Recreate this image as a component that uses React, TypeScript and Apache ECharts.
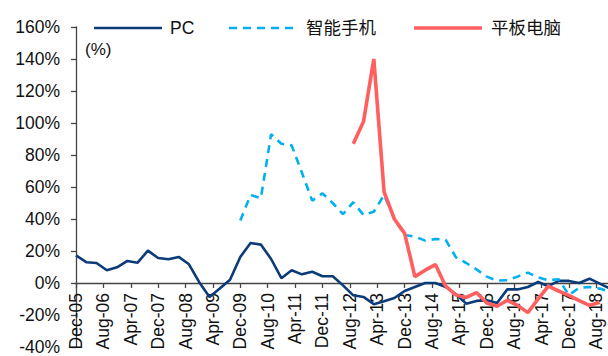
import React, { useEffect, useRef } from "react";
import * as echarts from "echarts";

// Month axis: 0 = Dec-05, one unit per month; a label every 8 months.
const tickLabels = [
  "Dec-05", "Aug-06", "Apr-07", "Dec-07", "Aug-08", "Apr-09", "Dec-09",
  "Aug-10", "Apr-11", "Dec-11", "Aug-12", "Apr-13", "Dec-13", "Aug-14",
  "Apr-15", "Dec-15", "Aug-16", "Apr-17", "Dec-17", "Aug-18",
];

const seriesNames = ["PC", "智能手机", "平板电脑"];
const seriesColors = ["#0C3B7A", "#00B0F0", "#FF5F5F"];

// Quarterly YoY growth (%), PC from Dec-05
const pcStartMonth = 0;
const pcValues = [
  17.3, 13, 12.5, 8, 9.8, 13.8, 12.7, 20.2, 15.6, 14.8, 16.3, 11.7,
  0.5, -8.7, -3.5, 2, 16.3, 25, 24, 15, 3, 8, 5.4, 7, 4.2, 4.2,
  -1.5, -7.7, -8.7, -13.3, -11.4, -9.4, -5, -2.5, 0, 0, -2.5, -7,
  -12.9, -11.2, -10.8, -12.5, -4, -4, -2.5, 0.6, -2, 1.3, 1.3, 0,
  2.7, -0.4, -3.5,
];

// Smartphones from Dec-09
const phoneStartMonth = 48;
const phoneValues = [
  39, 55, 53, 93, 87, 86, 69, 51.5, 56, 50, 43, 50.5, 42.5, 44.5,
  55, 40, 30, 29, 26.5, 27.5, 27, 16, 12.5, 8.5, 4, 1.5, 1.7, 4,
  6.5, 3.5, 1.7, 2.3, -7.5, -3, -2.5, -3.5, -5.5,
];

// Tablets from Sep-12
const tabletStartMonth = 81;
const tabletValues = [
  87, 101, 140, 57, 40, 31, 4, 8, 11.5, -2, -7.5, -9, -6, -12.5,
  -14.5, -10.8, -14, -18.5, -10, -2, -5, -7.7, -11, -14, -12,
];

const yMin = -40;
const yMax = 160;

const toPoints = (start: number, values: number[]) =>
  values.map((v, i) => [start + i * 3, v]);

const FONT = "'Liberation Sans', Arial, 'Noto Sans CJK SC', sans-serif";
const lineStyles = [
  { width: 2.6 },
  { width: 2.6, type: [8, 6] as number[] },
  { width: 3.6 },
];

// Hand-placed key: a line sample and a name for each series
const legendItems = [
  { x: 94, textX: 170 },
  { x: 229, textX: 306 },
  { x: 414, textX: 491 },
];

const GRID_TOP = 27;
const GRID_BOTTOM = 9;
const HEIGHT = 356;

export default function App() {
  const ref = useRef<HTMLDivElement>(null);

  useEffect(() => {
    if (!ref.current) return;
    const chart = echarts.init(ref.current, undefined, { renderer: "svg" });
    const keyY = 28;
    const keyGraphics: any[] = [];
    legendItems.forEach((it, i) => {
      keyGraphics.push({
        type: "line",
        shape: { x1: it.x, y1: keyY, x2: it.x + 68, y2: keyY },
        style: {
          stroke: seriesColors[i],
          lineWidth: lineStyles[i].width,
          lineDash: (lineStyles[i] as any).type,
        },
      });
      keyGraphics.push({
        type: "text",
        x: it.textX,
        y: keyY,
        style: {
          text: seriesNames[i],
          fontSize: 17.5,
          fontFamily: FONT,
          fill: "#111",
          verticalAlign: "middle",
        },
      });
    });

    // lift the category axis from the plot's floor up to the 0% line
    const plotH = HEIGHT - GRID_TOP - GRID_BOTTOM;
    const zeroLift = (plotH * (0 - yMin)) / (yMax - yMin);

    chart.setOption({
      animation: false,
      backgroundColor: "#ffffff",
      textStyle: { fontFamily: FONT },
      grid: {
        left: 76,
        right: -2,
        top: GRID_TOP,
        bottom: GRID_BOTTOM,
        containLabel: false,
        outerBoundsMode: "none",
      },
      graphic: [
        ...keyGraphics,
        {
          type: "text",
          left: 85,
          top: 41,
          style: { text: "(%)", fontSize: 17, fontFamily: FONT, fill: "#111" },
        },
      ],
      xAxis: {
        type: "value",
        min: 0,
        max: 156,
        interval: 8,
        offset: -zeroLift,
        splitLine: { show: false },
        axisLine: { show: true, onZero: false, lineStyle: { color: "#444", width: 1.3 } },
        axisTick: { show: true, length: 5, lineStyle: { color: "#444", width: 1.3 } },
        axisLabel: {
          rotate: 90,
          margin: 10,
          fontSize: 17.5,
          color: "#111",
          fontFamily: FONT,
          showMaxLabel: false,
          formatter: (v: number) =>
            v % 8 === 0 && tickLabels[v / 8] ? tickLabels[v / 8] : "",
        },
      },
      yAxis: {
        type: "value",
        min: yMin,
        max: yMax,
        interval: 20,
        splitLine: { show: false },
        axisLine: { show: true, lineStyle: { color: "#444", width: 1.3 } },
        axisTick: { show: true, length: 5, lineStyle: { color: "#444", width: 1.3 } },
        axisLabel: {
          margin: 16,
          fontSize: 17.5,
          color: "#111",
          fontFamily: FONT,
          formatter: "{value}%",
        },
      },
      series: [
        { name: seriesNames[0], data: toPoints(pcStartMonth, pcValues) },
        { name: seriesNames[1], data: toPoints(phoneStartMonth, phoneValues) },
        { name: seriesNames[2], data: toPoints(tabletStartMonth, tabletValues) },
      ].map((s, i) => ({
        ...s,
        type: "line",
        symbol: "none",
        showSymbol: false,
        lineStyle: { color: seriesColors[i], ...lineStyles[i] },
        itemStyle: { color: seriesColors[i] },
      })),
    });
    return () => chart.dispose();
  }, []);

  return (
    <div
      ref={ref}
      style={{ position: "fixed", left: 0, top: 0, width: 608, height: 356, background: "#fff" }}
    />
  );
}
